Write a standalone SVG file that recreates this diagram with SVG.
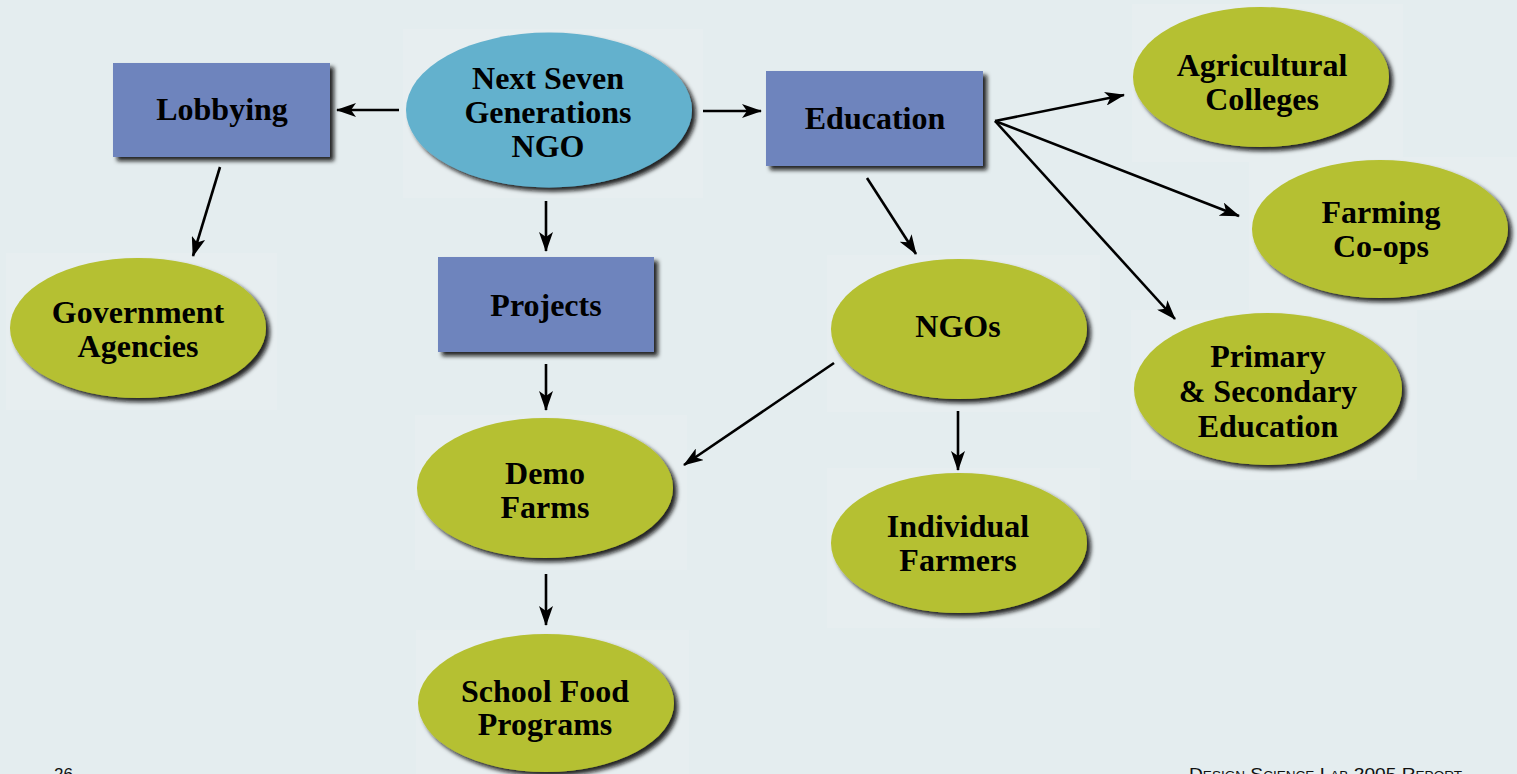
<svg xmlns="http://www.w3.org/2000/svg" width="1517" height="774" viewBox="0 0 1517 774">
<defs>
<filter id="sh" x="-10%" y="-10%" width="125%" height="130%">
<feDropShadow dx="4" dy="4" stdDeviation="2.2" flood-color="#0a0a0a" flood-opacity="0.9"/>
</filter>
<marker id="ah" viewBox="0 0 20 14" refX="19" refY="7" markerWidth="20" markerHeight="14" markerUnits="userSpaceOnUse" orient="auto">
<path d="M0,0 L20,7 L0,14 L5,7 z" fill="#000"/>
</marker>
</defs>
<style>
.lbl{font-family:"Liberation Serif","Times New Roman",serif;font-weight:bold;font-size:32px;fill:#000;text-anchor:middle}
.green{fill:#b5c031}
.blue{fill:#63b1cd}
.rect{fill:#6e84bd}
.bx{fill:#e7eef0}
.cn{stroke:#000;stroke-width:2.6;fill:none;marker-end:url(#ah)}
.ft{font-family:"Liberation Sans",Arial,sans-serif;font-size:17px;fill:#111}
</style>
<rect x="0" y="0" width="1517" height="774" fill="#e4edef"/>
<g id="backing">
<rect class="bx" x="403" y="29" width="300" height="169"/>
<rect class="bx" x="1132" y="4" width="271" height="158"/>
<rect class="bx" x="1249" y="157" width="268" height="153"/>
<rect class="bx" x="1131" y="310" width="286" height="170"/>
<rect class="bx" x="827" y="255" width="273" height="157"/>
<rect class="bx" x="6" y="253" width="271" height="157"/>
<rect class="bx" x="415" y="415" width="272" height="155"/>
<rect class="bx" x="416" y="630" width="273" height="144"/>
<rect class="bx" x="827" y="468" width="273" height="160"/>
</g>
<g id="connectors">
<line class="cn" x1="399" y1="110" x2="337" y2="110"/>
<line class="cn" x1="220" y1="167" x2="193" y2="256"/>
<line class="cn" x1="703" y1="111" x2="761" y2="111"/>
<line class="cn" x1="546" y1="201" x2="546" y2="251"/>
<line class="cn" x1="546" y1="364" x2="546" y2="410"/>
<line class="cn" x1="546" y1="574" x2="546" y2="625"/>
<line class="cn" x1="867" y1="178" x2="916" y2="254"/>
<line class="cn" x1="834" y1="363" x2="684" y2="465"/>
<line class="cn" x1="958" y1="411" x2="958" y2="470"/>
<line class="cn" x1="995" y1="121" x2="1124" y2="95"/>
<line class="cn" x1="995" y1="121" x2="1239" y2="216"/>
<line class="cn" x1="995" y1="121" x2="1175" y2="319"/>
</g>
<g id="n-next-seven">
<ellipse class="blue" cx="549" cy="110" rx="143" ry="77.5" filter="url(#sh)"/>
<text class="lbl" x="548" y="89">Next Seven</text>
<text class="lbl" x="548" y="123">Generations</text>
<text class="lbl" x="548" y="157">NGO</text>
</g>
<g id="n-lobbying">
<rect class="rect" x="113" y="63" width="217" height="94" filter="url(#sh)"/>
<text class="lbl" x="222" y="120">Lobbying</text>
</g>
<g id="n-education">
<rect class="rect" x="766" y="71" width="217" height="95" filter="url(#sh)"/>
<text class="lbl" x="875" y="129">Education</text>
</g>
<g id="n-projects">
<rect class="rect" x="438" y="257" width="216" height="95" filter="url(#sh)"/>
<text class="lbl" x="546" y="316">Projects</text>
</g>
<g id="n-government">
<ellipse class="green" cx="138" cy="328" rx="128" ry="70" filter="url(#sh)"/>
<text class="lbl" x="138" y="323">Government</text>
<text class="lbl" x="138" y="357">Agencies</text>
</g>
<g id="n-agricultural">
<ellipse class="green" cx="1261" cy="77" rx="128" ry="70" filter="url(#sh)"/>
<text class="lbl" x="1262" y="76">Agricultural</text>
<text class="lbl" x="1262" y="110">Colleges</text>
</g>
<g id="n-farming">
<ellipse class="green" cx="1380" cy="229" rx="128" ry="69" filter="url(#sh)"/>
<text class="lbl" x="1381" y="223">Farming</text>
<text class="lbl" x="1381" y="257">Co-ops</text>
</g>
<g id="n-primary">
<ellipse class="green" cx="1268" cy="389" rx="134" ry="76" filter="url(#sh)"/>
<text class="lbl" x="1268" y="367">Primary</text>
<text class="lbl" x="1268" y="402">&amp; Secondary</text>
<text class="lbl" x="1268" y="437">Education</text>
</g>
<g id="n-ngos">
<ellipse class="green" cx="959" cy="329" rx="128" ry="70" filter="url(#sh)"/>
<text class="lbl" x="958" y="337">NGOs</text>
</g>
<g id="n-demo">
<ellipse class="green" cx="545" cy="488" rx="128" ry="70" filter="url(#sh)"/>
<text class="lbl" x="545" y="484">Demo</text>
<text class="lbl" x="545" y="518">Farms</text>
</g>
<g id="n-individual">
<ellipse class="green" cx="959" cy="543" rx="128" ry="70" filter="url(#sh)"/>
<text class="lbl" x="958" y="537">Individual</text>
<text class="lbl" x="958" y="571">Farmers</text>
</g>
<g id="n-school">
<ellipse class="green" cx="546" cy="703" rx="128" ry="69" filter="url(#sh)"/>
<text class="lbl" x="545" y="702">School Food</text>
<text class="lbl" x="545" y="735">Programs</text>
</g>
<g id="footer">
<text class="ft" x="54" y="780">26</text>
<text class="ft" x="1189" y="780" style="font-variant:small-caps" textLength="273" lengthAdjust="spacingAndGlyphs">Design Science Lab 2005 Report</text>
</g>
</svg>
